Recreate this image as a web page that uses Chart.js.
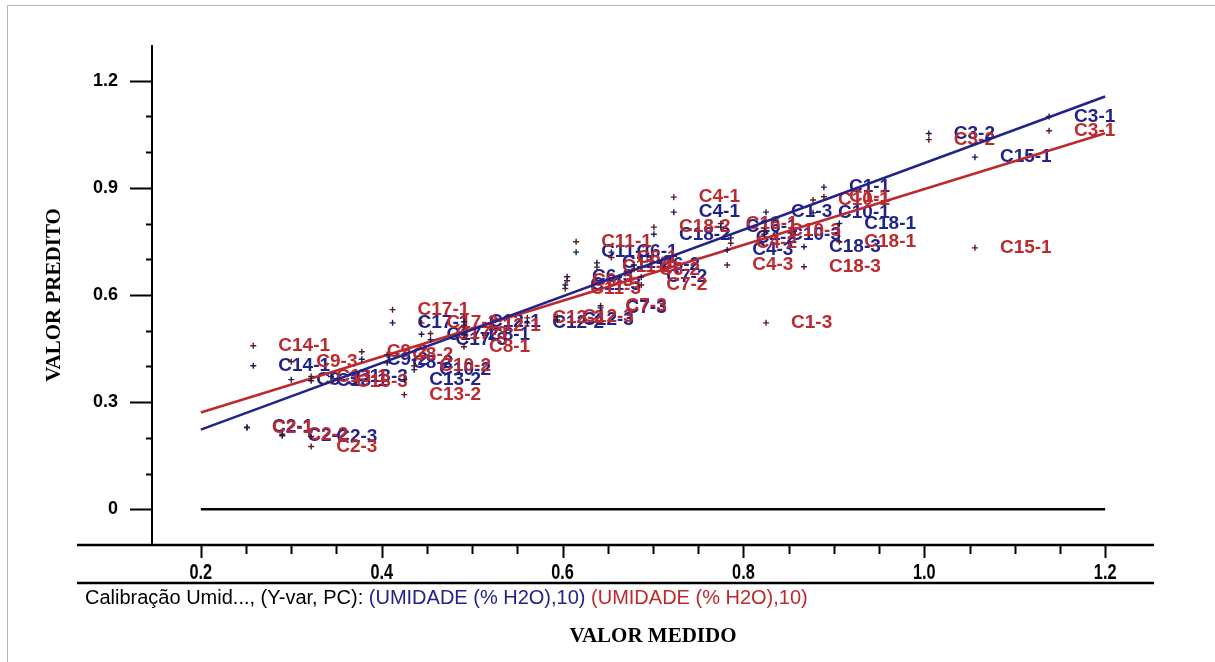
<!DOCTYPE html>
<html>
<head>
<meta charset="utf-8">
<script src="https://cdn.jsdelivr.net/npm/chart.js@4.4.1/dist/chart.umd.min.js"></script>
<style>
  html, body { margin: 0; padding: 0; background: #fff; }
  #wrap { position: relative; width: 1215px; height: 662px; }
</style>
</head>
<body>
<div id="wrap"><canvas id="plot" width="1215" height="662"></canvas></div>
<script>
// samples: measured value and predicted value (calibration = blue, validation = red)
const sampleNames = [
  'C2-1', 'C2-2', 'C2-3', 'C14-1', 'C9-3', 'C13-1', 'C13-3', 'C9-2', 'C8-2', 'C13-2',
  'C10-2', 'C17-1', 'C17-2', 'C17-3', 'C12-1', 'C8-1', 'C12-2', 'C12-3', 'C7-3', 'C11-3',
  'C6-3', 'C11-1', 'C11-2', 'C6-1', 'C6-2', 'C7-2', 'C18-2', 'C4-1', 'C16-1', 'C4-2',
  'C4-3', 'C10-3', 'C1-3', 'C18-3', 'C10-1', 'C1-1', 'C18-1', 'C3-2', 'C15-1', 'C3-1'
];
const measured = [
  0.251, 0.290, 0.322, 0.258, 0.300, 0.322, 0.344, 0.378, 0.406, 0.425,
  0.436, 0.412, 0.444, 0.454, 0.491, 0.491, 0.561, 0.594, 0.642, 0.603,
  0.605, 0.615, 0.638, 0.654, 0.679, 0.687, 0.701, 0.723, 0.775, 0.786,
  0.782, 0.823, 0.825, 0.867, 0.877, 0.889, 0.906, 1.005, 1.056, 1.138
];
const predCal = [
  0.230, 0.206, 0.204, 0.402, 0.363, 0.360, 0.372, 0.420, 0.410, 0.363,
  0.391, 0.522, 0.490, 0.475, 0.525, 0.488, 0.522, 0.530, 0.564, 0.628,
  0.651, 0.720, 0.690, 0.720, 0.684, 0.650, 0.770, 0.832, 0.790, 0.760,
  0.726, 0.770, 0.832, 0.735, 0.830, 0.902, 0.800, 1.052, 0.986, 1.100
];
const predVal = [
  0.228, 0.210, 0.176, 0.458, 0.413, 0.372, 0.358, 0.441, 0.433, 0.321,
  0.402, 0.559, 0.522, 0.492, 0.515, 0.455, 0.536, 0.539, 0.570, 0.618,
  0.640, 0.749, 0.678, 0.705, 0.672, 0.628, 0.790, 0.874, 0.800, 0.745,
  0.684, 0.780, 0.522, 0.679, 0.866, 0.875, 0.749, 1.035, 0.732, 1.060
];

// regression lines and target line
const fitX = [0.2, 1.2];
const fitCal = [0.223, 1.156];
const fitVal = [0.271, 1.053];
const zeroY = [0, 0];

const xTickValues = [0.2, 0.4, 0.6, 0.8, 1.0, 1.2];
const xTickLabels = ['0.2', '0.4', '0.6', '0.8', '1.0', '1.2'];
const yTickValues = [0, 0.3, 0.6, 0.9, 1.2];
const yTickLabels = ['0', '0.3', '0.6', '0.9', '1.2'];

const BLUE = '#22238a';
const RED = '#bd2a2e';
const SANS = "'Liberation Sans', Arial, sans-serif";

const pts = ys => measured.map((x, i) => ({ x, y: ys[i] }));
const seg = ys => fitX.map((x, i) => ({ x, y: ys[i] }));

// sample names written to the right of each point, under the lines
const pointLabels = {
  id: 'pointLabels',
  beforeDatasetsDraw(chart) {
    const ctx = chart.ctx;
    ctx.save();
    ctx.font = 'bold 19px ' + SANS;
    ctx.textAlign = 'left';
    ctx.textBaseline = 'middle';
    [[0, BLUE], [1, RED]].forEach(([di, color]) => {
      ctx.fillStyle = color;
      chart.getDatasetMeta(di).data.forEach((el, i) => {
        ctx.fillText(sampleNames[i], el.x + 25, el.y);
      });
    });
    ctx.restore();
  }
};

// axis lines, tick marks, narrow x labels, legend line and axis titles
const frame = {
  id: 'frame',
  afterDraw(chart) {
    const { ctx, chartArea: a, scales: { x, y } } = chart;
    ctx.save();

    ctx.strokeStyle = '#b4b4b4';
    ctx.lineWidth = 1;
    ctx.strokeRect(7.5, 5.5, 1400, 900);

    ctx.strokeStyle = '#000';
    ctx.lineCap = 'butt';

    // y axis
    ctx.lineWidth = 2;
    ctx.beginPath();
    ctx.moveTo(a.left, a.top);
    ctx.lineTo(a.left, a.bottom);
    ctx.stroke();
    for (let k = 0; k <= 12; k++) {
      const py = Math.round(y.getPixelForValue(k / 10)) + 0.5;
      const len = k % 3 === 0 ? 22 : 6;
      ctx.beginPath();
      ctx.moveTo(a.left - len, py);
      ctx.lineTo(a.left, py);
      ctx.stroke();
    }

    // x axis, extends past the y axis on the left
    const xStart = 77;
    ctx.lineWidth = 2.5;
    ctx.beginPath();
    ctx.moveTo(xStart, a.bottom);
    ctx.lineTo(a.right, a.bottom);
    ctx.stroke();
    ctx.lineWidth = 2;
    for (let k = 4; k <= 24; k++) {
      const px = Math.round(x.getPixelForValue(k * 0.05)) + 0.5;
      const len = k % 4 === 0 ? 13 : 9;
      ctx.beginPath();
      ctx.moveTo(px, a.bottom);
      ctx.lineTo(px, a.bottom + len);
      ctx.stroke();
    }

    // x tick labels, condensed
    ctx.fillStyle = '#000';
    ctx.font = 'bold 22px ' + SANS;
    ctx.textAlign = 'center';
    ctx.textBaseline = 'middle';
    xTickValues.forEach((v, i) => {
      ctx.save();
      ctx.translate(x.getPixelForValue(v), a.bottom + 28);
      ctx.scale(0.74, 1);
      ctx.fillText(xTickLabels[i], 0, 0);
      ctx.restore();
    });

    // rule under the tick labels
    ctx.lineWidth = 2.5;
    ctx.beginPath();
    ctx.moveTo(xStart, a.bottom + 38);
    ctx.lineTo(a.right, a.bottom + 38);
    ctx.stroke();

    // legend line
    ctx.font = '20px ' + SANS;
    ctx.textAlign = 'left';
    ctx.textBaseline = 'middle';
    let lx = 85;
    const ly = a.bottom + 53;
    [['Calibração Umid..., (Y-var, PC): ', '#000'],
     ['(UMIDADE (% H2O),10) ', BLUE],
     ['(UMIDADE (% H2O),10)', RED]].forEach(([t, c]) => {
      ctx.fillStyle = c;
      ctx.fillText(t, lx, ly);
      lx += ctx.measureText(t).width;
    });

    // axis titles
    ctx.fillStyle = '#000';
    ctx.font = "bold 21px 'Liberation Serif', 'Times New Roman', serif";
    ctx.textAlign = 'center';
    ctx.fillText('VALOR MEDIDO', (a.left + a.right) / 2, 637);
    ctx.translate(55, (a.top + a.bottom) / 2);
    ctx.rotate(-Math.PI / 2);
    ctx.fillText('VALOR PREDITO', 0, 0);
    ctx.restore();
  }
};

new Chart(document.getElementById('plot'), {
  type: 'scatter',
  data: {
    datasets: [
      {
        label: 'cal',
        data: pts(predCal),
        pointStyle: 'cross',
        pointRadius: 3,
        borderColor: '#1c1c55',
        borderWidth: 1.4,
        showLine: false
      },
      {
        label: 'val',
        data: pts(predVal),
        pointStyle: 'cross',
        pointRadius: 3,
        borderColor: '#5a1c22',
        borderWidth: 1.4,
        showLine: false
      },
      {
        label: 'fit cal',
        type: 'line',
        data: seg(fitCal),
        borderColor: BLUE,
        borderWidth: 2.6,
        pointRadius: 0
      },
      {
        label: 'fit val',
        type: 'line',
        data: seg(fitVal),
        borderColor: RED,
        borderWidth: 2.6,
        pointRadius: 0
      },
      {
        label: 'zero',
        type: 'line',
        data: seg(zeroY),
        borderColor: '#000',
        borderWidth: 2.6,
        pointRadius: 0
      }
    ]
  },
  options: {
    responsive: false,
    animation: false,
    devicePixelRatio: 1,
    layout: { padding: { top: 45, right: 61, left: 0, bottom: 0 } },
    plugins: {
      legend: { display: false },
      tooltip: { enabled: false }
    },
    scales: {
      x: {
        type: 'linear',
        min: 0.146,
        max: 1.254,
        afterBuildTicks: s => { s.ticks = xTickValues.map(v => ({ value: v })); },
        afterFit: s => { s.height = 117; },
        grid: { display: false, drawTicks: false },
        border: { display: false },
        ticks: { display: false }
      },
      y: {
        type: 'linear',
        min: -0.1,
        max: 1.3,
        afterBuildTicks: s => { s.ticks = yTickValues.map(v => ({ value: v })); },
        afterFit: s => { s.width = 152; },
        grid: { display: false, drawTicks: false },
        border: { display: false },
        ticks: {
          autoSkip: false,
          padding: 34,
          color: '#000',
          font: { family: SANS, size: 18, weight: 'bold' },
          callback: v => yTickLabels[yTickValues.findIndex(t => Math.abs(t - v) < 1e-6)]
        }
      }
    }
  },
  plugins: [pointLabels, frame]
});
</script>
</body>
</html>
